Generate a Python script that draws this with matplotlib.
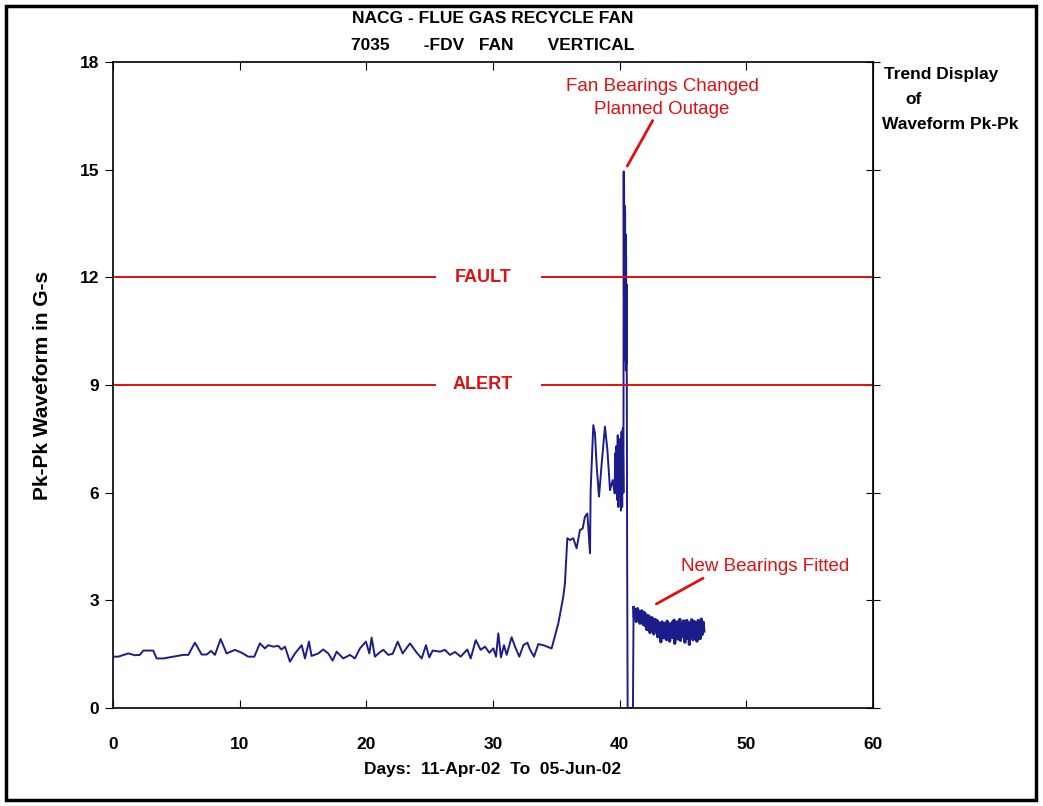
import numpy as np
import matplotlib.pyplot as plt
from matplotlib.patches import Rectangle

# pre-outage trend (days since 11-Apr-02, Pk-Pk in G-s)
old_days = [0.0, 0.42, 1.21, 1.74, 2.13, 2.39, 3.18, 3.45, 3.97, 5.55, 5.95, 6.47,
            7.0, 7.4, 7.74, 8.05, 8.5, 8.97, 9.63, 10.16, 10.68, 11.16, 11.6, 12.0,
            12.26, 12.66, 13.05, 13.3, 13.58, 13.97, 14.37, 14.9, 15.16, 15.47, 15.68,
            16.21, 16.6, 17.0, 17.34, 17.66, 18.18, 18.71, 19.1, 19.5, 19.97, 20.24,
            20.42, 20.68, 21.02, 21.34, 21.74, 22.08, 22.48, 22.87, 23.45, 23.92,
            24.37, 24.71, 24.97, 25.24, 25.82, 26.21, 26.6, 27.0, 27.45, 27.97, 28.24,
            28.64, 29.03, 29.37, 29.71, 30.03, 30.24, 30.42, 30.63, 30.87, 31.08,
            31.47, 31.74, 32.08, 32.4, 32.72, 32.93, 33.24, 33.58, 33.97, 34.63]
old_g = [1.43, 1.43, 1.52, 1.47, 1.48, 1.60, 1.60, 1.38, 1.38, 1.48, 1.48, 1.82,
         1.49, 1.49, 1.59, 1.48, 1.92, 1.52, 1.62, 1.54, 1.43, 1.43, 1.80, 1.66,
         1.75, 1.71, 1.73, 1.63, 1.71, 1.29, 1.52, 1.75, 1.38, 1.85, 1.45,
         1.52, 1.63, 1.52, 1.32, 1.57, 1.38, 1.48, 1.38, 1.66, 1.85, 1.52,
         1.96, 1.43, 1.54, 1.62, 1.48, 1.51, 1.85, 1.52, 1.80, 1.57,
         1.38, 1.75, 1.41, 1.60, 1.57, 1.62, 1.48, 1.56, 1.43, 1.63, 1.38,
         1.89, 1.62, 1.71, 1.54, 1.66, 1.43, 2.08, 1.41, 1.75, 1.48,
         1.97, 1.71, 1.43, 1.75, 1.82, 1.62, 1.43, 1.78, 1.75, 1.66]

# deterioration and spike before the outage
rise_days = [35.16, 35.55, 35.68, 35.87, 36.08, 36.34, 36.6, 36.87, 37.08, 37.26,
             37.45, 37.66, 37.71, 37.92, 38.05, 38.19, 38.37, 38.58, 38.84, 39.03,
             39.24, 39.45, 39.6, 39.65, 39.7, 39.75, 39.8, 39.85, 39.9, 39.95, 40.0,
             40.05, 40.1, 40.15, 40.2, 40.25, 40.3, 40.32, 40.34, 40.35, 40.37,
             40.39, 40.41, 40.43, 40.45, 40.47, 40.49, 40.51, 40.53, 40.55, 40.57,
             40.59, 40.63, 41.05]
rise_g = [2.36, 3.10, 3.47, 4.73, 4.68, 4.73, 4.45, 4.96, 5.0, 5.33,
          5.42, 4.31, 6.07, 7.88, 7.65, 6.72, 5.89, 6.8, 7.84, 7.2,
          6.07, 6.35, 5.98, 7.1, 6.0, 7.3, 5.8, 7.6, 5.6, 6.8, 5.9,
          7.5, 5.5, 7.7, 5.6, 7.8, 6.0, 14.95, 11.5, 14.6, 10.2,
          14.0, 10.8, 13.8, 9.7, 13.2, 9.4, 12.6, 9.6, 11.8, 7.5,
          4.5, 0.0, 0.0]

# after new bearings fitted
new_days = [41.10, 41.15, 41.20, 41.25, 41.30, 41.35, 41.40, 41.45, 41.50, 41.55,
            41.60, 41.65, 41.70, 41.75, 41.80, 41.85, 41.90, 41.95, 42.00, 42.05,
            42.10, 42.15, 42.20, 42.25, 42.30, 42.35, 42.40, 42.45, 42.50, 42.55,
            42.60, 42.65, 42.70, 42.75, 42.80, 42.85, 42.90, 42.95, 43.00, 43.05,
            43.10, 43.15, 43.20, 43.25, 43.30, 43.35, 43.40, 43.45, 43.50, 43.55,
            43.60, 43.65, 43.70, 43.75, 43.80, 43.85, 43.90, 43.95, 44.00, 44.05,
            44.10, 44.15, 44.20, 44.25, 44.30, 44.35, 44.40, 44.45, 44.50, 44.55,
            44.60, 44.65, 44.70, 44.75, 44.80, 44.85, 44.90, 44.95, 45.00, 45.05,
            45.10, 45.15, 45.20, 45.25, 45.30, 45.35, 45.40, 45.45, 45.50, 45.55,
            45.60, 45.65, 45.70, 45.75, 45.80, 45.85, 45.90, 45.95, 46.00, 46.05,
            46.10, 46.15, 46.20, 46.25, 46.30, 46.35, 46.40, 46.45, 46.50, 46.55,
            46.60, 46.65]
new_g = [2.80, 2.52, 2.68, 2.74, 2.41, 2.60, 2.77, 2.48, 2.55, 2.70,
         2.36, 2.62, 2.50, 2.71, 2.58, 2.33, 2.47, 2.66, 2.29, 2.52,
         2.60, 2.18, 2.44, 2.39, 2.57, 2.25, 2.10, 2.48, 2.35, 2.52,
         2.20, 2.41, 2.06, 2.33, 2.47, 2.28, 2.15, 2.44, 1.98, 2.30,
         2.38, 2.12, 2.26, 1.84, 2.22, 2.40, 2.09, 2.31, 1.95, 2.36,
         2.18, 2.27, 1.90, 2.42, 2.14, 2.03, 2.35, 1.86, 2.21, 2.29,
         2.07, 2.39, 1.96, 2.24, 2.45, 1.80, 2.16, 2.33, 2.02, 2.40,
         1.92, 2.28, 2.11, 2.47, 1.88, 2.20, 2.36, 1.99, 2.13, 2.43,
         2.06, 1.83, 2.31, 2.18, 2.44, 1.94, 2.25, 2.38, 1.77, 2.19,
         2.34, 2.01, 2.46, 2.12, 1.90, 2.29, 2.41, 1.97, 2.23, 2.37,
         1.86, 2.15, 2.44, 2.08, 2.32, 1.93, 2.26, 2.48, 2.04, 2.21,
         2.39, 2.14]

fault_level = 12
alert_level = 9

plt.rcParams['font.family'] = ['Liberation Sans', 'DejaVu Sans']
plt.rcParams['font.weight'] = 'bold'

fig = plt.figure(figsize=(10.43, 8.06), dpi=100)
ax = fig.add_axes([0.1083, 0.1216, 0.7287, 0.8015])

blue = '#1c1c8a'
days = old_days + rise_days + new_days[:1]
g = old_g + rise_g + new_g[:1]
ax.plot(days, g, color=blue, lw=1.4)
# dense readings after the refit show as a thick band
ax.plot(new_days, new_g, color=blue, lw=2.2)

red = '#e01010'
# alarm levels, broken round the label
for level, name in [(fault_level, 'FAULT'), (alert_level, 'ALERT')]:
    ax.hlines(level, 0, 25.5, color=red, lw=1.4)
    ax.hlines(level, 33.8, 60, color=red, lw=1.4)
    ax.text(29.2, level, name, color=red, fontsize=13, fontweight='bold',
            ha='center', va='center')

ax.annotate('Fan Bearings Changed\nPlanned Outage', xy=(40.6, 15.1),
            xytext=(43.34, 17.0), color=red, fontsize=13.5, fontweight='normal',
            ha='center', va='center', linespacing=1.45,
            arrowprops=dict(arrowstyle='-', color=red, lw=2,
                            shrinkA=0, shrinkB=0, relpos=(0.46, 0.0)))
ax.annotate('New Bearings Fitted', xy=(42.9, 2.9), xytext=(51.5, 3.93),
            color=red, fontsize=13.5, fontweight='normal', ha='center', va='center',
            arrowprops=dict(arrowstyle='-', color=red, lw=2,
                            shrinkA=0, shrinkB=0, relpos=(0.16, 0.0)))

ax.set_xlim(0, 60)
ax.set_ylim(0, 18)
ax.set_xticks(range(0, 61, 10))
ax.set_yticks(range(0, 19, 3))
ax.tick_params(axis='x', direction='in', length=6, top=True, labelsize=12.5, pad=21)
ax.tick_params(axis='y', direction='out', length=6, labelsize=12.5, pad=4, right=False)
for t in ax.get_xticklabels() + ax.get_yticklabels():
    t.set_fontweight('bold')
right = ax.secondary_yaxis('right')
right.set_yticks(range(0, 19, 3))
right.tick_params(direction='inout', length=10, labelright=False)
for s in ax.spines.values():
    s.set_linewidth(1.2)

ax.set_xlabel('Days:  11-Apr-02  To  05-Jun-02', fontsize=12.5, fontweight='bold', labelpad=7)
ax.set_ylabel('Pk-Pk Waveform in G-s', fontsize=15, fontweight='bold', labelpad=20)

fig.text(0.4727, 0.977, 'NACG - FLUE GAS RECYCLE FAN', ha='center', va='center',
         fontsize=12.5, fontweight='bold')
fig.text(0.4727, 0.944, '7035       -FDV   FAN       VERTICAL', ha='center', va='center',
         fontsize=12.5, fontweight='bold')
fig.text(0.848, 0.908, 'Trend Display', fontsize=12.5, fontweight='bold', va='center')
fig.text(0.868, 0.876, 'of', fontsize=12.5, fontweight='bold', va='center')
fig.text(0.846, 0.845, 'Waveform Pk-Pk', fontsize=12.5, fontweight='bold', va='center')

fig.patches.append(Rectangle((0.006, 0.008), 0.987, 0.984, transform=fig.transFigure,
                             fill=False, edgecolor='black', lw=2.5))

fig.savefig('out.png', dpi=100)
